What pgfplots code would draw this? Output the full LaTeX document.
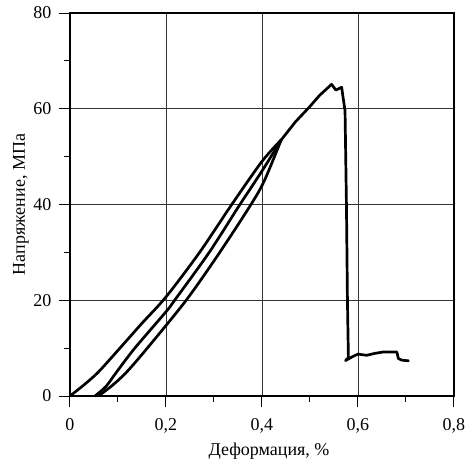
\documentclass[border=0pt]{standalone}
\usepackage{fontspec}
\setmainfont{Liberation Serif}
\usepackage{pgfplots}
\pgfplotsset{compat=1.18}
\begin{document}
\begin{tikzpicture}
\useasboundingbox (-70pt,-63pt) rectangle (399pt,396pt);
\begin{axis}[
  scale only axis,
  width=384pt, height=383pt,
  xmin=0, xmax=0.8, ymin=0, ymax=80,
  xtick={0,0.2,0.4,0.6,0.8},
  ytick={0,20,40,60,80},
  minor x tick num=1, minor y tick num=1,
  xtick pos=bottom, ytick pos=left,
  tick align=outside,
  major tick length=11pt, minor tick length=6pt,
  every tick/.style={black, line width=1pt},
  axis line style={black, line width=1.2pt},
  grid=major,
  major grid style={black!80, line width=0.9pt},
  /pgf/number format/assume math mode=true,
  /pgf/number format/use comma,
  /pgf/number format/fixed,
  xticklabel style={font=\fontsize{18}{21}\selectfont, yshift=-8pt},
  yticklabel style={font=\fontsize{18}{21}\selectfont, xshift=-4pt},
  label style={font=\fontsize{18}{21}\selectfont},
  xlabel={Деформация, \%},
  ylabel={Напряжение, МПа},
  xlabel style={yshift=-3pt, xshift=7pt},
  ylabel style={yshift=-2pt},
  clip=false,
]
% first loading
\addplot[black, line width=2.7pt, line cap=round, smooth, tension=0.5] coordinates {
(0,0) (0.03,2.4) (0.059,5) (0.104,10) (0.15,15.2) (0.2,20.7) (0.27,30) (0.337,40) (0.4,49) (0.44,53.5)
};
% unloading
\addplot[black, line width=2.7pt, line cap=round, smooth, tension=0.5] coordinates {
(0.062,0.2) (0.088,2.2) (0.118,5) (0.161,10) (0.242,20) (0.312,30) (0.377,40) (0.405,45) (0.44,53.5)
};
% reloading
\addplot[black, line width=2.7pt, line cap=round, smooth, tension=0.5] coordinates {
(0.052,0) (0.075,2) (0.097,5) (0.135,10) (0.2,17.6) (0.218,20) (0.29,30) (0.354,40) (0.4,47) (0.44,53.5)
};
% continuation to failure
\addplot[black, line width=2.7pt, line join=round, line cap=round] coordinates {
(0.44,53.5) (0.47,57.3) (0.5,60.5) (0.52,62.8) (0.545,65.1) (0.554,63.9) (0.566,64.5) (0.568,63) (0.573,59.6) (0.576,39.4) (0.578,20) (0.58,8) (0.574,7.4) (0.59,8.3) (0.6,8.75) (0.618,8.5) (0.635,8.9) (0.653,9.2) (0.681,9.2) (0.684,7.85) (0.691,7.5) (0.705,7.35)
};
\end{axis}
\end{tikzpicture}
\end{document}
